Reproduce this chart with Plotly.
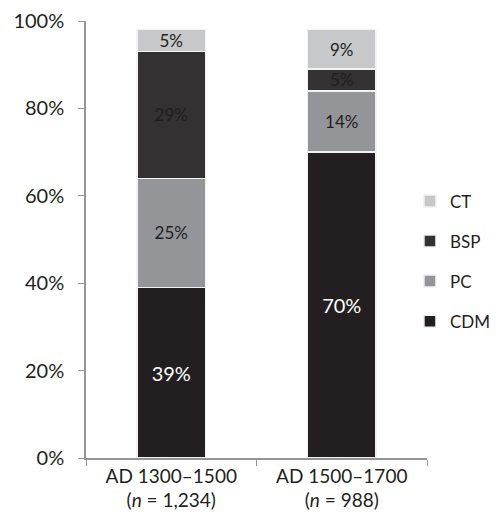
import plotly.graph_objects as go

categories = ["AD 1300–1500<br>(<i>n</i> = 1,234)", "AD 1500–1700<br>(<i>n</i> = 988)"]
series_names = ["CDM", "PC", "BSP", "CT"]
cdm = [39, 70]
pc = [25, 14]
bsp = [29, 5]
ct = [5, 9]
values = [cdm, pc, bsp, ct]
legend_ranks = [4, 3, 2, 1]
colors = ["#231f20", "#939598", "#333132", "#c7c8ca"]
text_colors = ["#ffffff", "#231f20", "#231f20", "#231f20"]
text_sizes = [20, 17, 17, 17]

fig = go.Figure()
for name, vals, col, tcol, tsz, rk in zip(series_names, values, colors, text_colors, text_sizes, legend_ranks):
    fig.add_trace(go.Bar(
        name=name, x=categories, y=vals, marker=dict(color=col, line=dict(color="#f2f2f2", width=1.5)),
        text=[f"{v}%" for v in vals], textposition="inside", insidetextanchor="middle",
        textfont=dict(color=tcol, size=tsz, family="Lato"), legendgroup=name, legendrank=rk,
        constraintext="none", width=0.4,
    ))

fig.update_layout(
    barmode="stack", width=493, height=516,
    margin=dict(l=78, r=74, t=13, b=66, autoexpand=False),
    paper_bgcolor="white", plot_bgcolor="white",
    font=dict(family="Lato", color="#231f20", size=17),
    legend=dict(x=0.95, y=0.45, yanchor="middle", xanchor="left", traceorder="grouped",
                tracegroupgap=15, font=dict(size=17), itemwidth=30, bgcolor="rgba(0,0,0,0)"),
    yaxis=dict(range=[0, 100], dtick=20, ticksuffix="%", showgrid=False, showline=True,
               linecolor="#939598", linewidth=1.5, ticks="outside", ticklen=6,
               tickcolor="#939598", tickfont=dict(size=20), zeroline=False,
               ticklabelstandoff=10, ticklabeloverflow="allow",
               automargin=False),
    xaxis=dict(showline=True, linecolor="#939598", linewidth=1.5, ticks="outside",
               tickson="boundaries", ticklen=6, tickcolor="#939598", tickfont=dict(size=19),
               automargin=False),
)

fig.write_html("out.html")
